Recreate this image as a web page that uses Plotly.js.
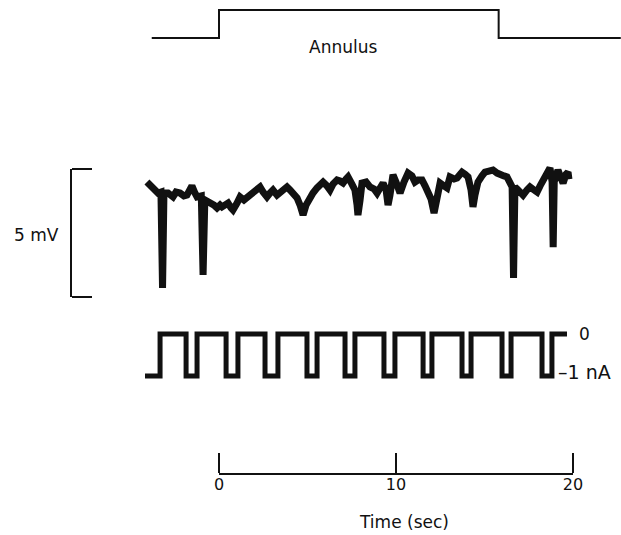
<!DOCTYPE html>
<html>
<head>
<meta charset="utf-8">
<script src="https://cdn.plot.ly/plotly-3.0.1.min.js"></script>
<style>html,body{margin:0;padding:0;background:#fff;}#chart{width:621px;height:535px;}</style>
</head>
<body>
<div id="chart"></div>
<script>
// Stimulus (annulus) timing, seconds; level 0 = off, 1 = on
const stimTime = [-3.8, 0, 15.8, 22.7];
const stimLevel = [0, 1, 0, 0];

// Membrane potential trace (mV, relative to bottom of 5 mV scale bar)
const voltTime = [-4.07,-3.90,-3.73,-3.45,-3.28,-3.19,-3.11,-2.88,-2.60,-2.43,-2.20,-1.98,-1.81,-1.64,-1.53,-1.36,-1.24,-1.00,-0.90,-0.80,-0.51,-0.28,-0.11,0.06,0.17,0.34,0.51,0.68,0.79,1.02,1.19,1.41,1.58,1.75,1.92,2.15,2.32,2.49,2.71,2.88,3.05,3.28,3.45,3.67,3.84,4.01,4.18,4.41,4.58,4.75,4.92,5.14,5.31,5.54,5.71,5.88,6.10,6.27,6.44,6.67,6.84,7.01,7.18,7.29,7.51,7.68,7.80,7.85,7.97,8.08,8.31,8.53,8.76,8.93,9.10,9.27,9.44,9.55,9.66,9.83,10.00,10.23,10.45,10.68,10.90,11.07,11.24,11.47,11.64,11.81,11.98,12.15,12.26,12.49,12.71,12.88,13.05,13.28,13.45,13.62,13.73,13.90,14.07,14.24,14.35,14.46,14.63,14.86,15.03,15.25,15.48,15.71,15.88,16.10,16.27,16.44,16.56,16.64,16.72,16.84,17.01,17.18,17.40,17.57,17.80,17.97,18.14,18.25,18.42,18.53,18.70,18.82,18.88,18.94,19.04,19.15,19.32,19.44,19.61,19.72,19.77];
const voltMV = [4.49,4.38,4.18,4.06,4.10,0.35,4.06,4.06,3.91,4.10,4.06,3.95,3.98,4.26,4.34,4.06,3.91,3.95,0.86,3.79,3.71,3.59,3.48,3.59,3.52,3.63,3.67,3.48,3.40,3.67,3.91,3.79,3.87,4.02,4.10,4.18,4.30,4.10,3.91,4.06,4.18,3.98,4.06,4.18,4.30,4.18,4.06,3.87,3.59,3.20,3.59,3.91,4.06,4.26,4.34,4.49,4.34,4.18,4.41,4.57,4.53,4.45,4.61,4.69,4.41,4.18,3.59,3.20,3.79,4.45,4.49,4.30,4.22,4.06,4.26,4.45,4.18,3.59,3.98,4.77,4.49,4.06,4.49,4.84,4.73,4.49,4.57,4.57,4.34,4.06,3.83,3.28,3.79,4.45,4.34,4.26,4.69,4.61,4.65,4.77,4.88,4.80,4.69,4.18,3.52,3.98,4.49,4.73,4.88,4.92,4.96,4.84,4.77,4.73,4.69,4.41,4.30,0.74,4.30,4.22,4.10,3.98,4.18,4.30,4.18,4.10,4.34,4.49,4.73,4.84,5.04,4.50,1.95,4.50,4.90,4.96,4.65,4.45,4.80,4.88,4.60];

// Injected current steps (nA): time of each transition and level held after it
const currTime = [-4.18,-3.33,-1.86,-1.24,0.40,1.07,2.60,3.33,4.97,5.54,7.12,7.68,9.32,9.94,11.53,12.03,13.73,14.24,15.99,16.50,18.25,18.81,19.66];
const currNA  = [-1,0,-1,0,-1,0,-1,0,-1,0,-1,0,-1,0,-1,0,-1,0,-1,0,-1,0,0];

// Axis tick values
const timeTicks = [0, 10, 20];
const scaleBarMV = [0, 5];

const font = 'DejaVu Sans, Arial, sans-serif';
const ink = '#111';

const traces = [
  {x: stimTime, y: stimLevel, xaxis: 'x', yaxis: 'y', mode: 'lines',
   line: {shape: 'hv', color: ink, width: 2}, hoverinfo: 'skip'},
  {x: voltTime, y: voltMV, xaxis: 'x', yaxis: 'y2', mode: 'lines',
   line: {color: ink, width: 7}, hoverinfo: 'skip'},
  {x: currTime, y: currNA, xaxis: 'x', yaxis: 'y3', mode: 'lines',
   line: {shape: 'hv', color: ink, width: 5}, hoverinfo: 'skip'},
  {x: [], y: [], xaxis: 'x2', yaxis: 'y4', mode: 'lines', hoverinfo: 'skip'},
  {x: [], y: [], xaxis: 'x3', yaxis: 'y4', mode: 'lines', hoverinfo: 'skip'}
];

const hidden = {visible: false, showgrid: false, zeroline: false, fixedrange: true};
const timeDomain = [219 / 621, 573 / 621];
const timePos = 1 - 473 / 535;

const layout = {
  width: 621, height: 535,
  margin: {l: 0, r: 0, t: 0, b: 0},
  paper_bgcolor: '#fff', plot_bgcolor: 'rgba(0,0,0,0)',
  showlegend: false,
  font: {family: font, color: ink, size: 17},
  xaxis: Object.assign({}, hidden, {range: [-12.373, 22.712], domain: [0, 1], anchor: 'y'}),
  yaxis: Object.assign({}, hidden, {range: [-0.2, 1.2], domain: [0.91850, 0.99178], anchor: 'x'}),
  yaxis2: Object.assign({}, hidden, {range: [-0.117, 5.742], domain: [0.43925, 0.71963], anchor: 'x'}),
  yaxis3: Object.assign({}, hidden, {range: [-1.25, 0.25], domain: [0.27757, 0.39533], anchor: 'x'}),
  // time axis line + upward ticks
  xaxis2: {
    domain: timeDomain, range: [0, 20], anchor: 'free', position: timePos, side: 'top',
    showline: true, linecolor: ink, linewidth: 1.5,
    ticks: 'outside', ticklen: 20, tickwidth: 1.5, tickcolor: ink,
    tickvals: timeTicks, showticklabels: false,
    showgrid: false, zeroline: false, fixedrange: true
  },
  // time axis labels below the line
  xaxis3: {
    overlaying: 'x2', domain: timeDomain, range: [0, 20], anchor: 'free', position: timePos, side: 'bottom',
    showline: false, ticks: '', tickvals: timeTicks, ticktext: timeTicks.map(String),
    tickfont: {family: font, size: 16, color: ink},
    showgrid: false, zeroline: false, fixedrange: true
  },
  // 5 mV scale bar
  yaxis4: {
    domain: [1 - 297 / 535, 1 - 169 / 535], range: [0, 5], anchor: 'free', position: 70 / 621, side: 'right',
    showline: true, linecolor: ink, linewidth: 1.5,
    ticks: 'outside', ticklen: 20, tickwidth: 1.5, tickcolor: ink,
    tickvals: scaleBarMV, showticklabels: false,
    showgrid: false, zeroline: false, fixedrange: true
  },
  annotations: [
    {text: 'Annulus', xref: 'paper', yref: 'paper', x: 343 / 621, y: 1 - 47 / 535,
     showarrow: false, xanchor: 'center', yanchor: 'middle', font: {family: font, size: 17, color: ink}},
    {text: '5 mV', xref: 'paper', yref: 'paper', x: 36 / 621, y: 1 - 235 / 535,
     showarrow: false, xanchor: 'center', yanchor: 'middle', font: {family: font, size: 17, color: ink}},
    {text: 'Time (sec)', xref: 'paper', yref: 'paper', x: 404 / 621, y: 1 - 522 / 535,
     showarrow: false, xanchor: 'center', yanchor: 'middle', font: {family: font, size: 17, color: ink}},
    {text: '0', xref: 'x', yref: 'y3', x: 20.2, y: 0,
     showarrow: false, xanchor: 'left', yanchor: 'middle', font: {family: font, size: 17, color: ink}},
    {text: '\u20131 nA', xref: 'x', yref: 'y3', x: 19.05, y: -0.9,
     showarrow: false, xanchor: 'left', yanchor: 'middle', font: {family: font, size: 19, color: ink}}
  ]
};

Plotly.newPlot('chart', traces, layout, {staticPlot: true, displayModeBar: false});
</script>
</body>
</html>
